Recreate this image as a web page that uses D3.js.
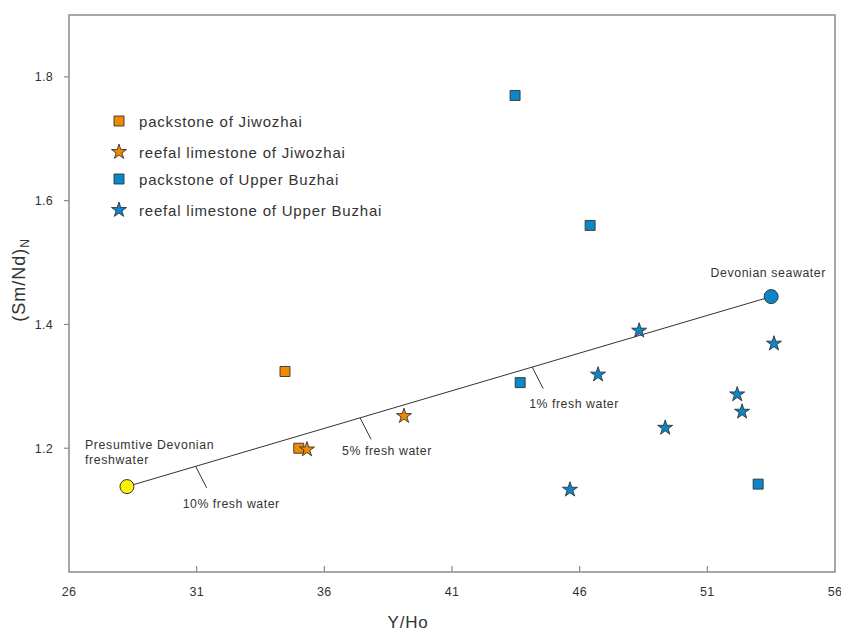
<!DOCTYPE html>
<html><head><meta charset="utf-8">
<script src="https://cdn.jsdelivr.net/npm/d3@7"></script>
<style>body{margin:0;background:#fff}svg{display:block;font-family:"Liberation Sans",Arial,sans-serif}</style>
</head><body><svg id="c" width="841" height="632"></svg>
<script>
// ---- data ----
const xTicks = [26, 31, 36, 41, 46, 51, 56];
const yTicks = [1.2, 1.4, 1.6, 1.8];
const packJiwozhai = [[34.46, 1.324], [35.0, 1.200]];
const reefJiwozhai = [[35.32, 1.198], [39.12, 1.252]];
const packBuzhai = [[43.47, 1.770], [46.41, 1.560], [43.67, 1.306], [52.99, 1.142]];
const reefBuzhai = [[48.33, 1.390], [46.72, 1.319], [53.61, 1.369], [52.17, 1.287], [52.36, 1.259], [49.35, 1.233], [45.62, 1.133]];
const freshwater = [28.27, 1.138];
const seawater = [53.50, 1.445];
const mixLabels = ["10% fresh water", "5% fresh water", "1% fresh water"];
const mixX = [30.96, 37.40, 44.14];
const legendNames = ["packstone of Jiwozhai", "reefal limestone of Jiwozhai", "packstone of Upper Buzhai", "reefal limestone of Upper Buzhai"];

const ORANGE = "#f08a00", BLUE = "#0a86c9", YELLOW = "#fff000", INK = "#333", AX = "#8a8a8a";

const svg = d3.select("#c");
const x = d3.scaleLinear().domain([26, 56]).range([69, 835]);
const y = d3.scaleLinear().domain([1.0, 1.9]).range([572, 15]);

// frame
svg.append("rect").attr("x", x(26)).attr("y", y(1.9)).attr("width", x(56) - x(26)).attr("height", y(1.0) - y(1.9))
  .attr("fill", "none").attr("stroke", AX).attr("stroke-width", 1.5);

// y ticks
yTicks.forEach(t => {
  svg.append("line").attr("x1", x(26) - 5).attr("x2", x(26)).attr("y1", y(t)).attr("y2", y(t)).attr("stroke", AX).attr("stroke-width", 1.2);
  svg.append("text").attr("x", 53).attr("y", y(t) + 4.5).attr("text-anchor", "end").attr("font-size", 12.5).attr("letter-spacing", 0.3).attr("fill", INK).text(t.toFixed(1));
});
// x ticks
xTicks.forEach(t => {
  if (t !== 26 && t !== 56) svg.append("line").attr("x1", x(t)).attr("x2", x(t)).attr("y1", y(1.0)).attr("y2", y(1.0) - 6).attr("stroke", AX).attr("stroke-width", 1.2);
  svg.append("text").attr("x", x(t)).attr("y", 596).attr("text-anchor", "middle").attr("font-size", 12.5).attr("letter-spacing", 0.3).attr("fill", INK).text(t);
});

// axis titles
svg.append("text").attr("x", 408).attr("y", 627.5).attr("text-anchor", "middle").attr("font-size", 17).attr("letter-spacing", 0.8).attr("fill", INK).text("Y/Ho");
const yl = svg.append("text").attr("transform", "translate(25,280) rotate(-90)").attr("text-anchor", "middle").attr("font-size", 18).attr("letter-spacing", 1).attr("fill", INK);
yl.append("tspan").text("(Sm/Nd)");
yl.append("tspan").attr("font-size", 12).attr("dy", 4).text("N");

// mixing line
svg.append("line").attr("x1", x(freshwater[0])).attr("y1", y(freshwater[1])).attr("x2", x(seawater[0])).attr("y2", y(seawater[1]))
  .attr("stroke", INK).attr("stroke-width", 1);
const lineY = v => {
  const f = (v - freshwater[0]) / (seawater[0] - freshwater[0]);
  return y(freshwater[1] + f * (seawater[1] - freshwater[1]));
};
const labelOff = [[-13, 41.5], [-18, 37.5], [-3, 41]];
mixX.forEach((v, i) => {
  const px = x(v), py = lineY(v);
  svg.append("line").attr("x1", px).attr("y1", py).attr("x2", px + 11).attr("y2", py + 21.5).attr("stroke", INK).attr("stroke-width", 1);
  svg.append("text").attr("x", px + labelOff[i][0]).attr("y", py + labelOff[i][1]).attr("font-size", 12.3).attr("letter-spacing", 0.55).attr("fill", INK).text(mixLabels[i]);
});

// end members
svg.append("circle").attr("cx", x(freshwater[0])).attr("cy", y(freshwater[1])).attr("r", 7).attr("fill", YELLOW).attr("stroke", INK).attr("stroke-width", 1);
svg.append("circle").attr("cx", x(seawater[0])).attr("cy", y(seawater[1])).attr("r", 7).attr("fill", BLUE).attr("stroke", INK).attr("stroke-width", 1);
svg.append("text").attr("x", 85).attr("y", 449).attr("font-size", 12.3).attr("letter-spacing", 0.65).attr("fill", INK).text("Presumtive Devonian");
svg.append("text").attr("x", 85).attr("y", 464).attr("font-size", 12.3).attr("letter-spacing", 0.65).attr("fill", INK).text("freshwater");
svg.append("text").attr("x", 826).attr("y", 277).attr("text-anchor", "end").attr("font-size", 12.3).attr("letter-spacing", 0.6).attr("fill", INK).text("Devonian seawater");

// markers
const sq = d3.symbol().type(d3.symbolSquare).size(100);
const st = d3.symbol().type(d3.symbolStar).size(70);
function draw(data, gen, color) {
  svg.append("g").selectAll("path").data(data).join("path")
    .attr("transform", d => `translate(${x(d[0])},${y(d[1])})`)
    .attr("d", gen()).attr("fill", color).attr("stroke", INK).attr("stroke-width", 0.9);
}
draw(packJiwozhai, sq, ORANGE);
draw(reefJiwozhai, st, ORANGE);
draw(packBuzhai, sq, BLUE);
draw(reefBuzhai, st, BLUE);

// legend
const legGens = [sq, st, sq, st], legCols = [ORANGE, ORANGE, BLUE, BLUE], legY = [121, 152, 179, 210];
legendNames.forEach((n, i) => {
  svg.append("path").attr("transform", `translate(119,${legY[i]})`).attr("d", legGens[i]()).attr("fill", legCols[i]).attr("stroke", INK).attr("stroke-width", 0.9);
  svg.append("text").attr("x", 139).attr("y", legY[i] + 5.5).attr("font-size", 15).attr("letter-spacing", 0.8).attr("fill", INK).text(n);
});
</script></body></html>
